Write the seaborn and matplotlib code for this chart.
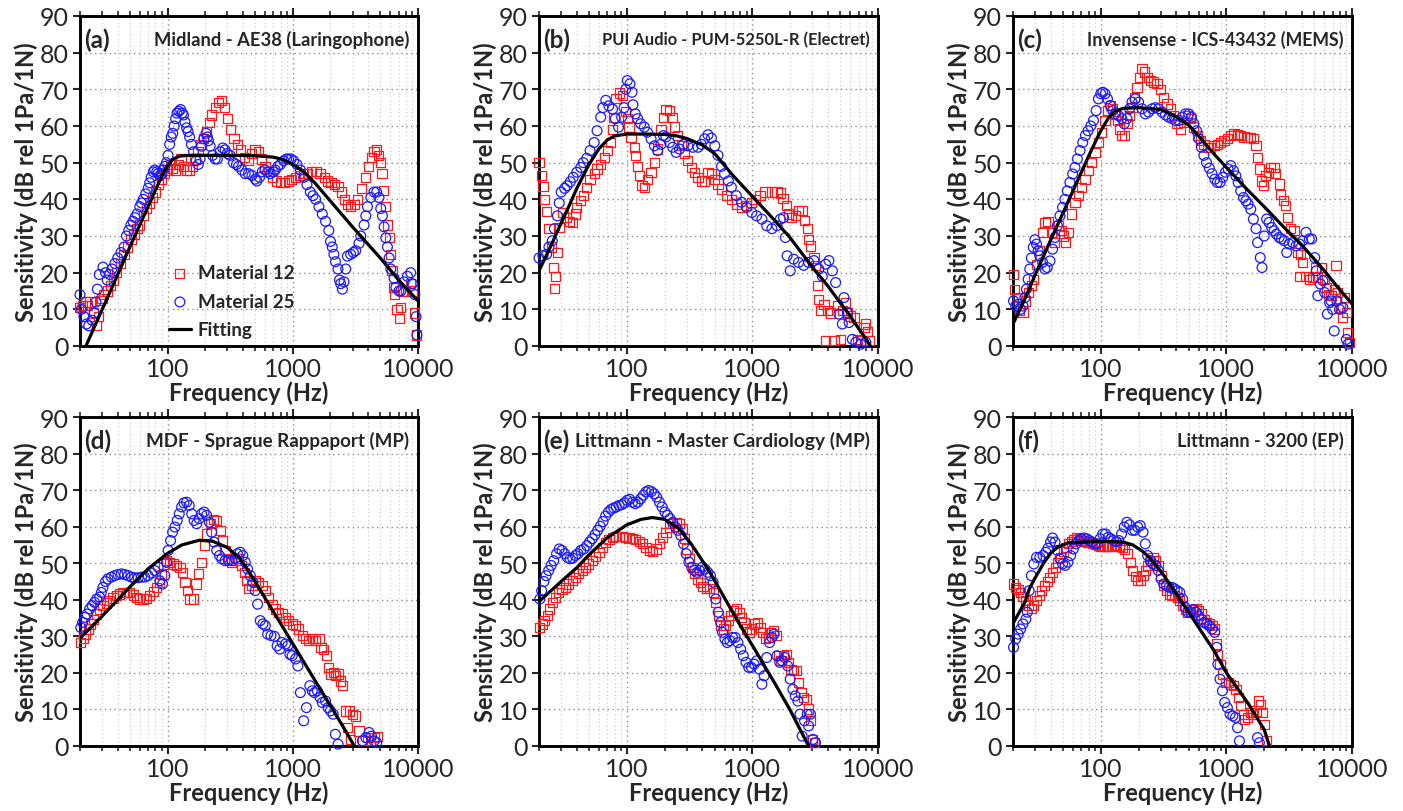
import numpy as np
import matplotlib
matplotlib.use("Agg")
import matplotlib.pyplot as plt
import matplotlib.ticker as mticker
import seaborn as sns

# ---------------- data ----------------
# (a) Midland - AE38 (Laringophone)
a_f12 = [20, 21, 22, 23, 24, 25.5, 27, 28, 29, 30, 31, 33, 35, 37, 39, 42, 45, 48, 51, 54, 57, 60, 64, 68, 72, 76, 80, 85, 90, 95,
         100, 105, 110, 115, 122, 128, 135, 142, 150, 158, 166, 175, 185, 195, 205, 215, 225, 240, 255, 270, 285, 300, 320, 340,
         360, 385, 410, 440, 470, 500, 530, 560, 600, 640, 690, 740, 800, 860, 920, 980, 1050, 1130, 1220, 1320, 1420, 1530, 1650,
         1780, 1900, 2020, 2150, 2300, 2450, 2600, 2750, 2900, 3100, 3300, 3550, 3800, 4050, 4250, 4450, 4650, 4850, 5000, 5150,
         5300, 5500, 5700, 5900, 6050, 6200, 6350, 6500, 6800, 7100, 7300, 7550, 8000, 8700, 9000, 9400, 9700]
a_v12 = [10.5, 11, 12, 11, 12, 9, 5.5, 8, 12.5, 13, 14, 15, 16.5, 18, 20, 22.5, 25, 27, 29, 30.5, 32, 33, 35.5, 37.5, 39, 40.5, 42,
         44, 45.5, 47, 48, 49.5, 48.5, 48, 49.5, 51, 49, 48, 48, 49, 51, 53, 55, 56.5, 58.5, 61, 63, 65, 66.5, 67, 65, 62, 59, 56.5,
         55, 53.5, 51.5, 50.5, 52.5, 53.5, 53, 51, 49, 47.5, 46, 45, 44.5, 44.5, 45, 45.5, 46, 46.5, 47, 47, 47.5, 47.5, 47, 46, 45,
         44.5, 44, 43.5, 42, 40, 38.5, 38, 38.5, 40, 43, 46, 49, 51.5, 53, 53.5, 52, 50, 47, 42.5, 38, 33, 29.5, 25, 20.5, 16, 14,
         10, 7.5, 10.5, 15, 15, 17, 15, 9, 3]
a_f25 = [20, 20.5, 21.5, 22.5, 23.5, 25, 26, 26.8, 27.5, 28.5, 30.5, 32, 33, 34.5, 36, 38, 40, 42.5, 45, 47, 49, 51, 53, 55, 57, 60,
         62, 64, 67, 70, 72, 74, 77, 79, 82, 84, 87, 90, 92, 95, 98, 101, 104, 107, 110, 113, 116, 119, 123, 127, 131, 134, 138,
         142, 146, 150, 155, 161, 169, 176, 182, 187, 195, 203, 208, 212, 219, 229, 240, 250, 263, 276, 288, 300, 316, 336, 355,
         369, 392, 417, 443, 472, 502, 517, 543, 570, 600, 630, 662, 700, 725, 760, 796, 846, 890, 925, 970, 1017, 1082, 1150,
         1222, 1298, 1381, 1450, 1524, 1619, 1720, 1827, 1940, 2000, 2065, 2130, 2192, 2296, 2360, 2410, 2490, 2565, 2648, 2730,
         2900, 3050, 3180, 3383, 3490, 3710, 3830, 3950, 4200, 4460, 4680, 4880, 5040, 5200, 5360, 5530, 5700, 5880, 6070, 6440,
         6660, 7040, 7300, 7750, 8230, 8740, 9000, 9440, 9650, 9800]
a_v25 = [14, 10, 8, 6, 5.5, 7, 9, 12, 15.5, 19.5, 21.5, 20, 18, 19.5, 21, 22.5, 24, 25.5, 27, 30, 31.5, 33, 34, 35, 36, 38, 39, 40,
         41.5, 43, 44.5, 46, 47.5, 48, 47.5, 47, 46.5, 47, 48, 49, 50, 52, 55, 57, 58, 60, 62, 63.5, 64, 64.5, 63.5, 63, 61, 59.5,
         58.5, 57, 55, 53, 50.5, 49.5, 51, 54.5, 56.5, 58, 57, 56, 54.5, 52, 51, 51, 53, 54, 53.5, 52.5, 52, 50, 49.5, 49, 48, 47,
         47, 46.5, 45.5, 45, 46, 47.5, 48, 47.5, 47, 47.5, 48, 49, 49.5, 50.5, 51, 51, 51, 50.5, 49.5, 48, 46, 44, 42, 41, 40, 38,
         36, 34, 31.5, 28.5, 27, 25, 23, 21, 18, 17, 15.5, 17.5, 21, 24.5, 25, 25.5, 26, 28, 30, 33, 35.5, 38, 40.5, 42, 42, 40.5,
         37.5, 35.5, 32.5, 29.5, 27, 24, 21, 18.5, 16, 15, 15, 17.5, 19, 20, 17, 14, 8, 3]
a_ffit = [22.3, 25, 30, 35, 40, 50, 60, 70, 80, 90, 100, 110, 125, 150, 200, 300, 500, 700, 850, 1000, 1200, 1500, 2000, 3000,
          4000, 5000, 7000, 10000]
a_vfit = [0, 3.8, 9.9, 15, 19.5, 27, 33, 38, 42.5, 46.3, 49.2, 50.9, 51.8, 52, 52, 52, 51.9, 51.5, 50.8, 49.5, 47.8, 44.5, 39.5,
          32.5, 27.7, 24, 18, 12.3]

# (b) PUI Audio - PUM-5250L-R (Electret)
b_f12 = [20, 21, 21.5, 22, 23, 24, 25, 26, 26.5, 27, 28, 29, 31, 33, 35, 37, 39, 40, 43, 45, 48, 51, 55, 58, 62, 66, 70, 74, 77,
         79, 82, 87, 92, 98, 101, 104, 108, 115, 118, 122, 126, 132, 138, 146, 156, 166, 176, 187, 196, 205, 219, 229, 240, 255,
         271, 288, 306, 326, 347, 369, 392, 417, 443, 472, 502, 532, 567, 620, 680, 745, 820, 900, 990, 1060, 1150, 1260, 1430,
         1570, 1670, 1750, 1860, 1940, 2060, 2190, 2330, 2480, 2590, 2730, 2800, 2900, 3090, 3180, 3280, 3380, 3490, 3710, 3830,
         3950, 4200, 4460, 4750, 5040, 5200, 5530, 5700, 6070, 6440, 6820, 7300, 7750, 8000, 8230, 8500]
b_v12 = [50, 46.6, 43.4, 40, 36.7, 32, 27, 21.4, 15.7, 19, 25.5, 32.3, 36.4, 35, 34, 33.7, 36, 37.8, 39.6, 41, 43.3, 45.5, 47, 48.3,
         49.6, 51.5, 53.3, 55.5, 59, 62.4, 67.4, 69, 68.3, 64, 62, 59.7, 57, 54.2, 52, 49, 46.4, 43.7, 43.3, 45.5, 47.4, 50, 53.7,
         59, 62.4, 64.4, 64.2, 62.4, 59.7, 57.4, 54.6, 52.4, 50.5, 48.7, 47.4, 46, 45, 45, 47.4, 47, 45.5, 44.2, 42.8, 41, 40, 38.7,
         37.8, 38.3, 39.2, 40, 41, 42, 42, 42, 41.7, 40.3, 38.3, 36, 35, 35.5, 36.9, 36.9, 34.2, 32, 29, 27.3, 24, 22, 16.4, 12.7,
         9.6, 11.4, 1.4, 9.6, 9, 1.4, 11, 1.8, 9.6, 11.8, 9, 8.2, 7.7, 1.8, 1.4, 5, 6, 4, 1.4]
b_f25 = [20, 21.5, 23, 24, 25.5, 26.5, 28, 29, 30, 32, 33.5, 35.5, 37.5, 40, 43, 45, 48, 51, 55, 58, 62, 64.5, 68, 72, 77, 81, 86,
         91, 95, 98, 101, 106, 110, 112, 117, 122, 129, 138, 146, 156, 166, 176, 187, 196, 205, 219, 232, 247, 263, 283, 306, 336,
         369, 392, 417, 443, 472, 502, 532, 567, 600, 643, 680, 745, 820, 900, 990, 1080, 1190, 1300, 1430, 1570, 1670, 1770,
         1830, 1890, 2000, 2130, 2330, 2560, 2800, 3090, 3380, 3600, 3830, 4070, 4330, 4600, 4880, 5200, 5360, 5700, 5880, 6250,
         6660, 7300, 8000]
b_v25 = [24, 24.6, 25, 27, 28.7, 32, 35.5, 39, 42, 43, 43.7, 44.8, 46, 47.4, 48.7, 50, 51.2, 53.3, 55.5, 58.7, 62.4, 65, 67, 65.5,
         64.6, 62, 59.7, 62.4, 65, 70, 72.4, 71.5, 69.2, 65.8, 63.3, 62, 60.6, 59.7, 58.3, 56.5, 54.6, 53.3, 55, 57.4, 57, 55.5,
         54.2, 52.8, 53.7, 55, 54.6, 54.2, 54.2, 55, 56.5, 57.6, 56.7, 54.6, 52, 49, 47, 45, 43.3, 41, 39.2, 37.8, 36.4, 35.5,
         34.6, 32.8, 32, 32.8, 34.6, 35, 29.6, 24.6, 20.5, 23.7, 22.8, 22, 22.8, 23.3, 21, 19, 22.3, 23.3, 20.5, 17.3, 8.7, 6,
         13.2, 9, 6.4, 1.8, 1, 0.5, 1]
b_ffit = [20, 25, 30, 35, 40, 50, 60, 70, 80, 100, 150, 200, 250, 300, 400, 500, 700, 1000, 1500, 2000, 3000, 4000, 5000, 6000,
          7000, 8000, 8700]
b_vfit = [20.5, 27.5, 33.5, 38.5, 43, 49.5, 53.8, 56.2, 57.3, 57.8, 57.8, 57.7, 57.3, 56.6, 54.8, 52.5, 46.5, 40.8, 34.3, 29.5,
          21.5, 16.3, 11.8, 8.2, 4.8, 2, 0]

# (c) Invensense - ICS-43432 (MEMS)
c_f12 = [20.2, 20.6, 21.6, 22.6, 24, 25.3, 26.4, 28, 29.3, 30.8, 32.7, 34.7, 35.9, 38, 40.5, 43, 45.8, 48.7, 50.3, 52.7, 55.2,
         58.6, 62.3, 66.3, 70.4, 75, 79.7, 84.7, 90, 95.8, 101.8, 108, 113, 118.8, 124.7, 130.2, 136, 141, 147, 153.6, 161.5,
         169.4, 177, 185, 194, 204, 213, 222, 233, 248, 264, 280, 298, 317, 337, 358, 381, 405, 431, 458, 487, 518, 551, 586,
         622, 662, 704, 749, 796, 846, 900, 957, 1018, 1082, 1150, 1223, 1301, 1383, 1470, 1563, 1640, 1722, 1770, 1829, 1900,
         1983, 2060, 2154, 2255, 2394, 2470, 2630, 2710, 2850, 2975, 3070, 3255, 3460, 3680, 3820, 3900, 4050, 4300, 4570, 4860,
         5100, 5345, 5690, 6045, 6230, 6480, 6810, 7220, 7450, 7690, 8090, 8370, 8750, 9020, 9200, 9500]
c_v12 = [19.6, 15.5, 13.2, 9.6, 9.1, 12.3, 14.6, 16.4, 18.2, 22.3, 26, 31, 33.7, 33.9, 31, 28.2, 32.8, 31.4, 30, 28.2, 31, 36,
         39.2, 41, 43.3, 45.5, 47.8, 50, 52.8, 55.5, 58.3, 61.5, 64.2, 65.6, 64.7, 63.3, 61.5, 59.2, 57.4, 57.4, 60.6, 62.8, 65,
         67.8, 70.5, 73.3, 75.6, 74.7, 73.3, 72.4, 72, 71.5, 70, 67.8, 66, 64.7, 62.8, 60.6, 59.2, 61, 62.8, 62, 59.7, 57.4, 56,
         55, 54.2, 54.2, 54.6, 55, 55.5, 56, 56.5, 57.4, 57.8, 57.6, 57.4, 57, 56.9, 56.9, 56.5, 54.6, 51.5, 48.3, 45, 43.7, 46.4,
         47.4, 48.7, 48.7, 47, 44.2, 41.4, 39.6, 38.3, 35, 32, 31.4, 25.5, 19, 25, 22.8, 19, 18.2, 18.7, 21.4, 18.7, 21.4, 18.2,
         16, 14, 13.7, 15.5, 21.9, 14.6, 10.5, 7.7, 13.2, 9.1, 3.6, 1]
c_f25 = [20.2, 21, 22, 23, 24, 24.9, 25.6, 26.4, 27.2, 28, 29, 29.9, 30.8, 31.7, 32.7, 34.4, 35.9, 37.5, 39.4, 41.3, 43.2, 45.1,
         47.3, 49.6, 51.8, 54.1, 56.8, 59.7, 62.3, 65.1, 68.4, 71.8, 75.4, 79.2, 83.2, 87.4, 91.8, 95.8, 100, 103.7, 108.3, 113,
         118.8, 124.7, 130.2, 138.5, 147, 153.6, 161.5, 169.4, 177, 188, 200, 213, 226, 240, 256, 272, 289, 307, 327, 348, 370,
         393, 418, 444, 472, 502, 528, 551, 579, 604, 632, 662, 695, 731, 768, 808, 846, 890, 935, 982, 1032, 1082, 1140, 1190,
         1240, 1301, 1368, 1430, 1490, 1563, 1640, 1722, 1770, 1860, 1920, 2000, 2090, 2185, 2290, 2394, 2500, 2630, 2750, 2890,
         3020, 3160, 3370, 3580, 3820, 4050, 4300, 4570, 4770, 5050, 5200, 5345, 5600, 5870, 6045, 6360, 6625, 6810, 7010, 7220,
         7580, 7950, 8460, 9020, 9300]
c_v25 = [12.3, 10.9, 11.4, 10, 10.9, 13.2, 15.5, 18.2, 21, 24, 26.9, 29, 27.8, 26, 24.6, 22.8, 21, 21.4, 23.2, 26.4, 29.6, 32.8,
         35.5, 37.8, 40, 42.3, 44.6, 46.9, 48.7, 51, 53.3, 55.5, 57.4, 58.7, 60, 61.5, 64.2, 67.4, 68.8, 69.2, 68.8, 67.4, 65.6,
         64.2, 63.3, 62.8, 62, 60.6, 62, 64.7, 66.5, 67.4, 66.5, 64.7, 63.3, 63.8, 64.7, 65, 64.7, 63.8, 63, 62.4, 62, 61.5, 61.5,
         62.4, 63.3, 63.3, 62.4, 60.6, 58.7, 56.5, 54.2, 52, 50, 48.5, 47, 45.5, 44.6, 44.6, 46, 47.4, 48.3, 49.2, 47.8, 46.4,
         44.6, 42.3, 40.5, 39.6, 38.7, 37.3, 34.6, 32, 28.2, 24.1, 21.4, 30, 34.6, 33.7, 32.3, 31.4, 30.5, 29.6, 29.2, 28.7, 25.5,
         27.8, 28.2, 27.3, 27.8, 28.7, 31, 29.2, 29.2, 24.1, 20.5, 13.7, 16.9, 17.8, 14.6, 8.7, 11.8, 12.3, 10, 4.1, 12.3, 10,
         10.5, 1.8, 0.5]
c_ffit = [20, 25, 30, 40, 50, 60, 70, 80, 90, 100, 115, 130, 150, 200, 300, 400, 500, 600, 700, 800, 1000, 1500, 2000, 3000,
          4000, 6000, 8000, 10000]
c_vfit = [6, 13, 19.4, 29, 36.3, 42.3, 47.4, 51.8, 55.5, 58.7, 62.2, 64, 64.8, 65, 64.5, 62.5, 60.3, 57.3, 54.6, 52.3, 48.7,
          42.3, 38, 31.7, 27.5, 20.6, 15.3, 11.5]

# (d) MDF - Sprague Rappaport (MP)
d_f12 = [20.3, 21.2, 22.2, 23.3, 24.4, 25.7, 27, 28.7, 30.5, 32.4, 34.5, 36.7, 39, 41.5, 44.1, 46.9, 49.9, 53.1, 56.5, 60, 63.8,
         67.8, 72.1, 76.7, 81.6, 85.7, 89.5, 93.4, 98, 104, 111, 118, 126, 132, 138, 144, 151, 161, 169, 176, 187, 197, 205, 219,
         232, 247, 263, 276, 288, 306, 326, 347, 369, 392, 409, 430, 443, 472, 502, 532, 567, 604, 643, 684, 727, 773, 822, 875,
         930, 989, 1052, 1119, 1190, 1265, 1345, 1430, 1520, 1617, 1680, 1770, 1860, 1940, 2000, 2100, 2190, 2300, 2390, 2490,
         2650, 2730, 2820, 2900, 3000, 3180, 3380, 3600, 3950, 4200, 4460, 4750]
d_v12 = [28.3, 29.3, 30.6, 32, 33.4, 34.7, 36.1, 37.5, 38.4, 39.1, 39.8, 40.5, 41.1, 41.6, 42, 42, 42, 41.3, 40.7, 40.2, 40.2,
         40.4, 41.1, 42.2, 43.4, 44.8, 47, 49.8, 50.7, 50.3, 49.8, 49.4, 48.9, 47.5, 44.8, 42.5, 40.2, 40.2, 44.3, 47.1, 50.3,
         54.8, 58, 60.8, 62, 61.7, 59, 56.2, 53.5, 51.2, 50.3, 50.7, 51.2, 49.4, 47.5, 45.2, 43, 43.9, 45.2, 44.8, 43.9, 42.5,
         40.7, 38.8, 37.5, 36.6, 36.1, 35.2, 34.3, 33.4, 32.9, 32, 30.2, 29.3, 28.8, 29.3, 28.8, 29.3, 27, 26.5, 24.7, 21.5, 19.7,
         20.1, 19.2, 19.7, 17.8, 16.5, 9.6, 5, 9.6, 1.8, 8.7, 8.2, 4.1, 1.4, 2.3, 1.4, 2.3, 2.7]
d_f25 = [20.3, 21, 21.9, 22.8, 23.9, 25, 26.1, 27.2, 28.7, 29.6, 30.5, 32, 33.4, 35.5, 37.8, 40.2, 42.8, 45.5, 48.4, 51.5, 54.7,
         58.2, 61.9, 65.8, 70, 74.4, 79.1, 84.2, 86.8, 91.2, 95.2, 98.2, 101.2, 105.7, 109.7, 114.5, 119.5, 124, 129.5, 135, 142,
         149, 156, 163, 171, 179, 187, 196, 205, 216, 225, 235, 247, 260, 271, 288, 306, 326, 347, 361, 380, 399, 417, 436, 458,
         480, 502, 524, 550, 578, 604, 630, 670, 714, 750, 788, 822, 875, 913, 948, 989, 1052, 1098, 1150, 1222, 1286, 1370, 1430,
         1490, 1570, 1650, 1720, 1827, 1910, 2000, 2100, 2190, 2300, 3600, 3830, 4070, 4250, 4460, 4680]
d_v25 = [32.4, 33.8, 35.2, 36.1, 37.5, 38.4, 39.3, 40.2, 40.7, 42, 43.4, 45, 45.7, 46.2, 46.6, 46.9, 47.1, 46.9, 46.6, 46.2, 46,
         46, 46.2, 46.2, 46.6, 47.3, 48, 48.9, 45.2, 44.3, 46.6, 50.3, 53.5, 56.2, 58.5, 59.9, 61.7, 63.5, 65.4, 66.5, 66.7, 65.8,
         63.5, 61.7, 60.8, 62.2, 63.5, 64, 63.1, 61.2, 58.5, 55.8, 53.5, 52.1, 51.2, 50.7, 50.7, 50.7, 51.4, 52.6, 53, 52.1, 50.3,
         48.4, 46.6, 44.8, 42.5, 38.8, 34.3, 33.4, 32.9, 30.6, 30.2, 30, 27.4, 26.5, 28.3, 27.9, 27.4, 25.1, 24.7, 23.8, 21.9,
         14.6, 6.9, 10.5, 16.5, 15.1, 14.6, 15.1, 13.3, 11.9, 12.3, 10.5, 9.6, 8.7, 3.2, 0.5, 1.4, 2.3, 3.7, 2.7, 1.4, 0.9]
d_ffit = [20, 30, 40, 50, 70, 100, 130, 180, 230, 300, 380, 480, 600, 800, 1000, 1500, 2000, 2500, 3100]
d_vfit = [29.5, 35.5, 40, 43.5, 48.5, 52.7, 55, 56.3, 56, 54.3, 51.2, 46, 40.5, 33.5, 28, 18, 11, 5.5, 0]

# (e) Littmann - Master Cardiology (MP)
e_f12 = [20.3, 21.2, 22.2, 23.3, 24.4, 25.7, 27, 28.7, 30.5, 32.4, 34.5, 36.7, 39, 41.5, 44.1, 46.9, 49.9, 53.1, 56.5, 60, 63.8,
         67.8, 72.1, 76.7, 81.6, 86.8, 92.3, 98.2, 104, 111, 118, 126, 134, 142, 151, 161, 171, 182, 193, 205, 219, 232, 247, 263,
         276, 288, 301, 316, 332, 349, 366, 385, 404, 430, 458, 487, 511, 534, 558, 585, 615, 643, 670, 704, 750, 788, 822, 858,
         900, 945, 990, 1040, 1095, 1150, 1208, 1270, 1334, 1400, 1470, 1545, 1614, 1687, 1770, 1860, 1940, 2030, 2130, 2240,
         2340, 2440, 2565, 2690, 2800, 2900, 3000, 3120]
e_v12 = [32.4, 33.4, 34.3, 35.6, 37.5, 39.3, 40.7, 42, 42.8, 43.4, 44.3, 45.2, 46.2, 47.1, 48, 48.9, 49.8, 50.7, 51.9, 53, 54.4,
         55.6, 56.5, 57.1, 57.4, 57.4, 57.3, 57.1, 56.9, 56.7, 56.4, 55.9, 55.3, 54.4, 53.5, 53.3, 53.9, 55.3, 57.1, 58.5, 59.9,
         60.8, 61.1, 60.8, 59.4, 56.7, 53.9, 51.2, 48.9, 47.1, 45.7, 44.8, 43.7, 43, 43, 42, 39.3, 35.6, 32.9, 32, 32.9, 34.3,
         35.6, 37, 37.5, 36.6, 35.2, 33.8, 32, 31.1, 32, 33.4, 33.8, 32.4, 31.1, 29.3, 29.7, 31.1, 31.5, 30.2, 24.7, 23.3, 24.7,
         25.1, 22.9, 21, 20.6, 20.6, 17.4, 14.6, 13.3, 12.8, 10.1, 6.9, 1.8, 0.9]
e_f25 = [20.3, 21, 21.9, 22.8, 23.9, 25, 26.2, 27.6, 29, 30.5, 32, 33.6, 35.3, 37.1, 39, 40.9, 43, 45.5, 48.1, 50.5, 53.1, 55.8,
         58.6, 61.5, 64.7, 67.8, 71.3, 74.9, 78.7, 82.6, 86.8, 91.2, 95.8, 100.6, 105.7, 111, 116.7, 122.6, 128.8, 135.3, 142,
         149, 157, 165, 173, 182, 191, 201, 211, 221, 232, 244, 256, 269, 283, 297, 312, 328, 345, 362, 380, 399, 420, 441, 464,
         487, 511, 534, 558, 578, 604, 630, 662, 695, 730, 767, 806, 846, 890, 935, 982, 1032, 1080, 1140, 1190, 1240, 1300, 1370,
         1430, 1490, 1570, 1650, 1730, 1810, 1910, 2000, 2100, 2190, 2300, 2390, 2490, 2600, 2730, 2800, 2900, 3030, 3180]
e_v25 = [40.2, 42.5, 45, 46.6, 48, 49.4, 50.7, 52.6, 53.9, 53.5, 52.6, 51.6, 51.2, 51.4, 52.1, 52.6, 53.5, 53.9, 54.8, 55.8, 56.7,
         57.8, 59, 60.1, 61.4, 62.9, 64, 64.7, 65.1, 65.4, 65.8, 66, 66.5, 67.2, 67.5, 66.7, 66.3, 66.7, 67.6, 68.6, 69.5, 69.9,
         69.6, 69, 68.1, 66.7, 65.4, 64, 63.1, 62.2, 61.2, 59.9, 59, 57.6, 55.3, 52.6, 50.3, 48.9, 48, 47.5, 48, 48.9, 48.4, 47.5,
         46.6, 44.8, 40.2, 36.6, 33.8, 31.1, 29.3, 28.3, 28.8, 29.7, 29.7, 28.3, 26.5, 24.7, 22.9, 21.5, 21.5, 22.4, 23.3, 21,
         16.9, 19.2, 24.2, 28.3, 29.7, 30.6, 24.7, 22.9, 23.3, 24.2, 21.9, 18.3, 15.5, 13.7, 12.3, 8.7, 2.7, 6.9, 8.7, 5.5, 8.7,
         1.8, 0.9]
e_ffit = [20, 30, 40, 50, 70, 100, 130, 160, 200, 260, 330, 450, 600, 800, 1000, 1500, 2000, 2800]
e_vfit = [39.5, 45, 48.8, 52.3, 57, 60.5, 62, 62.5, 62, 59.5, 55, 48, 40.5, 33, 27.5, 17.3, 9.8, 0]

# (f) Littmann - 3200 (EP)
f_f12 = [20.2, 21, 22, 23, 24, 25.3, 26.6, 27.9, 29.3, 30.8, 32.3, 33.9, 35.6, 37.5, 39.3, 41.3, 43.4, 45.6, 47.9, 50.3, 52.8,
         55.5, 58.3, 61.2, 64.3, 67.5, 70.9, 74.5, 78.2, 82.2, 86.3, 90.6, 95.2, 100, 105, 110.3, 115.9, 121.7, 127.8, 134.2,
         141, 148, 155.5, 163.3, 171.5, 180, 189, 196.5, 206, 217, 226, 236, 248, 260, 274, 287, 302, 317, 333, 350, 368, 386,
         406, 426, 448, 470, 494, 519, 545, 572, 601, 631, 663, 696, 731, 768, 806, 830, 846, 890, 935, 980, 1032, 1082, 1137,
         1194, 1240, 1290, 1370, 1400, 1470, 1550, 1620, 1722, 1790, 1860, 1950, 2000, 2090]
f_v12 = [44.3, 43.4, 42.8, 42, 41, 39.8, 38.6, 37.7, 38.4, 39.8, 41.1, 42.5, 43.9, 45, 46.2, 47.5, 48.9, 50.3, 51.6, 53.2, 54.4,
         55.3, 55.9, 56.5, 56.9, 56.7, 56.2, 55.9, 55.8, 55.6, 55.3, 55.1, 54.8, 54.7, 54.6, 54.6, 54.6, 54.7, 54.8, 54.8, 54.7,
         54.4, 53.7, 52.6, 50.3, 48, 46.4, 45.2, 45.2, 46.6, 48, 49.4, 50.7, 51.4, 50.7, 49.4, 46.6, 43.9, 42.5, 41.6, 41.1, 41.1,
         40.7, 39.8, 38.4, 37.3, 36.6, 36.8, 37.3, 37.5, 37, 36.1, 34.7, 33.8, 33.4, 32.9, 32, 27.9, 25.1, 22.4, 19.7, 17.4, 17.4,
         16.9, 16.5, 15.5, 13.3, 11, 8.7, 7.3, 7.8, 9.1, 8.7, 9.6, 12.3, 11.4, 9.1, 5.9, 1.4]
f_f25 = [20.2, 21, 22, 23, 24, 25.3, 26, 26.9, 28, 29.3, 30.8, 32.7, 34.7, 36.5, 38, 39.8, 41.3, 43.2, 45.1, 47.3, 49.6, 52, 54.8,
         57.5, 60.4, 63.5, 66.7, 70, 73.6, 77.3, 81.2, 85.3, 89.5, 94, 98.8, 103.7, 109, 114.5, 120.2, 126.2, 132.6, 139.3, 146.3,
         153.6, 161.3, 169.4, 178, 187, 196.5, 206, 217, 226, 236, 248, 260, 274, 287, 302, 317, 333, 350, 368, 386, 406, 426,
         448, 470, 494, 519, 545, 572, 601, 631, 663, 696, 731, 768, 806, 837, 855, 890, 930, 970, 1018, 1070, 1124, 1180, 1226,
         1270, 1770, 1830]
f_v25 = [27, 29.3, 30.6, 32, 33.4, 34.7, 36.6, 42.5, 46.6, 49.8, 51.6, 51.6, 52.1, 53, 54.1, 55.8, 56.9, 55.8, 53.5, 51.2, 49.8,
         49.4, 50.3, 52.1, 53.9, 55.3, 56.2, 56.7, 56.9, 56.7, 56.2, 55.8, 55.3, 55.3, 56.7, 58, 58, 57.1, 56.7, 56.2, 55.9, 56.2,
         58, 59.9, 61.2, 60.5, 59, 59, 59.9, 60.3, 58.5, 55.3, 52.1, 50.7, 49.8, 49.4, 48, 45.7, 44.3, 43.9, 43.4, 43.4, 43, 42.5,
         42, 40.2, 37.9, 36.6, 36.6, 37.3, 36.6, 35.6, 34.7, 33.8, 33.4, 32.9, 32, 31.1, 27, 22.4, 18.3, 15.1, 11.9, 10.5, 8.7,
         8.2, 7.8, 5, 1.4, 2.3, 0.9]
f_ffit = [20, 25, 27, 30, 35, 40, 45, 55, 100, 150, 180, 220, 260, 320, 430, 600, 800, 1000, 1500, 2000, 2200]
f_vfit = [33.5, 39.5, 43, 46, 50, 52.8, 54.3, 55.6, 56, 55.8, 55, 53, 50.5, 46.5, 40, 32.5, 26, 20, 11.5, 4.5, 0]

letters = ["(a)", "(b)", "(c)", "(d)", "(e)", "(f)"]
titles = ["Midland - AE38 (Laringophone)", "PUI Audio - PUM-5250L-R (Electret)", "Invensense - ICS-43432 (MEMS)",
          "MDF - Sprague Rappaport (MP)", "Littmann - Master Cardiology (MP)", "Littmann - 3200 (EP)"]
# Lato runs wider than the original font on some titles, so sizes are tuned per panel
title_sizes = [13.2, 11.9, 12.8, 13.5, 13.8, 13.1]

panels = [
    (a_f12, a_v12, a_f25, a_v25, a_ffit, a_vfit),
    (b_f12, b_v12, b_f25, b_v25, b_ffit, b_vfit),
    (c_f12, c_v12, c_f25, c_v25, c_ffit, c_vfit),
    (d_f12, d_v12, d_f25, d_v25, d_ffit, d_vfit),
    (e_f12, e_v12, e_f25, e_v25, e_ffit, e_vfit),
    (f_f12, f_v12, f_f25, f_v25, f_ffit, f_vfit),
]

# ---------------- style ----------------
sns.set_style("ticks")
plt.rcParams['font.family'] = ['Lato', 'DejaVu Sans']

fig = plt.figure(figsize=(14.03, 8.12), dpi=100)

# axes boxes in pixels (left, top, right, bottom)
W, H = 1403, 812
lefts = [80, 539, 1013]
rights = [418, 878, 1352]
tops = [17, 418]
bottoms = [347, 747]

for i, (f12, v12, f25, v25, ffit, vfit) in enumerate(panels):
    r, c = divmod(i, 3)
    ax = fig.add_axes([lefts[c] / W, 1 - bottoms[r] / H,
                       (rights[c] - lefts[c]) / W, (bottoms[r] - tops[r]) / H])
    ax.set_xscale("log")
    ax.set_axisbelow(True)

    first = (i == 0)
    sns.scatterplot(x=f12, y=v12, ax=ax, marker="s", s=44, facecolor="none", edgecolor="#ff1a1a",
                    linewidth=0.9, label="Material 12" if first else None, legend=False, zorder=3, clip_on=False)
    sns.scatterplot(x=f25, y=v25, ax=ax, marker="o", s=50, facecolor="none", edgecolor="#1a1aff",
                    linewidth=0.9, label="Material 25" if first else None, legend=False, zorder=3, clip_on=False)
    sns.lineplot(x=ffit, y=vfit, ax=ax, color="black", linewidth=2.3, label="Fitting" if first else None,
                 legend=False, errorbar=None, zorder=4)

    ax.set_xlim(20, 10000)
    ax.set_ylim(0, 90)
    ax.set_yticks(np.arange(0, 91, 10))
    ax.xaxis.set_major_locator(mticker.LogLocator(base=10, numticks=10))
    ax.xaxis.set_minor_locator(mticker.LogLocator(base=10, subs=np.arange(2, 10), numticks=20))
    ax.xaxis.set_major_formatter(mticker.FuncFormatter(lambda v, p: "%d" % v))
    ax.xaxis.set_minor_formatter(mticker.NullFormatter())

    ax.grid(which="major", axis="both", color="#8c8c8c", linestyle=(0, (1, 2.5)), linewidth=1.0)
    ax.grid(which="minor", axis="x", color="#c8c8c8", linestyle=(0, (1, 2.5)), linewidth=0.8)

    for s in ax.spines.values():
        s.set_linewidth(2.1)
        s.set_color("black")
    ax.tick_params(axis="y", which="major", direction="out", length=5, width=1.5, labelsize=18, pad=3,
                   right=False)
    ax.tick_params(axis="x", which="major", direction="out", length=6, width=1.5, labelsize=18, pad=2,
                   top=True)
    ax.tick_params(axis="x", which="minor", direction="out", length=3.5, width=1.2, top=True)

    ax.set_xlabel("Frequency (Hz)", fontsize=17, fontweight="bold", labelpad=0)
    ax.set_ylabel("Sensitivity (dB rel 1Pa/1N)", fontsize=17, fontweight="bold", labelpad=1)

    ax.text(0.012, 0.93, letters[i], transform=ax.transAxes, fontsize=17.5, fontweight="bold",
            ha="left", va="center")
    ax.text(0.975, 0.93, titles[i], transform=ax.transAxes, fontsize=title_sizes[i], fontweight="bold",
            ha="right", va="center")

    if first:
        leg = ax.legend(loc="lower left", bbox_to_anchor=(0.24, 0.0), frameon=False, fontsize=13.5,
                        handlelength=1.2, handletextpad=0.35, labelspacing=0.62, borderaxespad=0)
        for t in leg.get_texts():
            t.set_fontweight("bold")

fig.savefig("out.png", dpi=100)
